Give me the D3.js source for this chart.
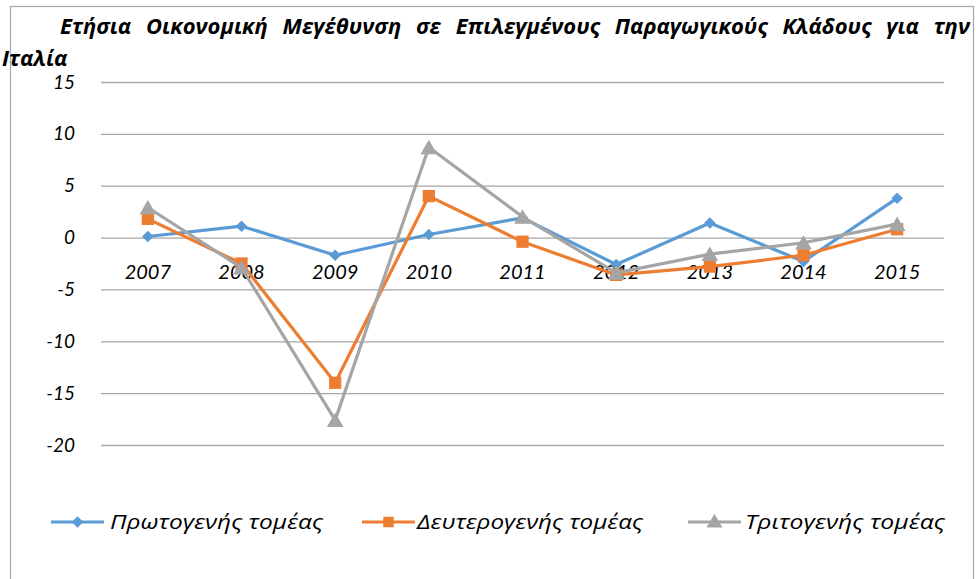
<!DOCTYPE html>
<html>
<head>
<meta charset="utf-8">
<script src="https://cdn.jsdelivr.net/npm/d3@7"></script>
<style>
    body { margin: 0; background: #fff; }
    svg { display: block; }
</style>
</head>
<body>
<div id="chart"></div>
<script>
const years = ["2007", "2008", "2009", "2010", "2011", "2012", "2013", "2014", "2015"];
const primary = [0.1, 1.1, -1.7, 0.3, 1.9, -2.6, 1.4, -2.3, 3.8];
const secondary = [1.8, -2.5, -14.0, 4.0, -0.4, -3.6, -2.8, -1.7, 0.8];
const tertiary = [2.9, -2.9, -17.6, 8.7, 2.0, -3.4, -1.6, -0.5, 1.3];
const yTicks = [15, 10, 5, 0, -5, -10, -15, -20];
const seriesNames = ["Πρωτογενής τομέας", "Δευτερογενής τομέας", "Τριτογενής τομέας"];
const titleLine1 = "Ετήσια Οικονομική Μεγέθυνση σε Επιλεγμένους Παραγωγικούς Κλάδους για την";
const titleLine2 = "Ιταλία";

const width = 976, height = 579;
const plot = { left: 101, right: 944, top: 82, bottom: 445 };

const svg = d3.select("#chart")
    .append("svg")
    .attr("width", width)
    .attr("height", height);

// chart frame
svg.append("rect")
    .attr("x", 10.5).attr("y", 6.5)
    .attr("width", 963).attr("height", 580)
    .attr("fill", "#fff")
    .attr("stroke", "#a6a6a6")
    .attr("stroke-width", 1.2);

const x = d3.scaleBand()
    .domain(years)
    .range([plot.left, plot.right])
    .paddingInner(0).paddingOuter(0);

const y = d3.scaleLinear()
    .domain([-20, 15])
    .range([plot.bottom, plot.top]);

const cx = d => x(d) + x.bandwidth() / 2;
const tickFont = "Lato, 'Open Sans', sans-serif";

// y axis + gridlines
const yAxis = svg.append("g")
    .attr("transform", `translate(${plot.left},0)`)
    .call(d3.axisLeft(y)
        .tickValues(yTicks)
        .tickFormat(d => String(d))
        .tickSizeInner(-(plot.right - plot.left))
        .tickSizeOuter(0)
        .tickPadding(26));
yAxis.select(".domain").remove();
yAxis.selectAll(".tick line")
    .attr("stroke", "#a6a6a6")
    .attr("stroke-width", 1.3);
yAxis.selectAll(".tick text")
    .attr("font-family", tickFont)
    .attr("font-style", "italic")
    .attr("font-size", 19)
    .attr("fill", "#000");

// category labels sit on the zero line
const xAxis = svg.append("g")
    .attr("transform", `translate(0,${y(0)})`)
    .call(d3.axisBottom(x).tickSize(0).tickPadding(27));
xAxis.select(".domain").remove();
xAxis.selectAll(".tick text")
    .attr("font-family", tickFont)
    .attr("font-style", "italic")
    .attr("font-size", 20)
    .attr("fill", "#000");

// title, justified on the first line
const titleFont = "'Open Sans', 'Noto Sans', sans-serif";
const words = titleLine1.split(" ");
const tg = svg.append("g")
    .attr("font-family", titleFont)
    .attr("font-weight", "bold")
    .attr("font-style", "italic")
    .attr("font-size", 22);
const wordNodes = words.map(w => tg.append("text").attr("y", 34).text(w));
const widths = wordNodes.map(n => n.node().getComputedTextLength());
const x0 = 60, x1 = 970;
const gap = Math.max(4, (x1 - x0 - d3.sum(widths)) / (words.length - 1));
let pos = x0;
wordNodes.forEach((n, i) => {
    n.attr("x", pos);
    pos += widths[i] + gap;
});
tg.append("text").attr("x", 2).attr("y", 66).text(titleLine2);

// series
const colors = ["#5b9bd5", "#ed7d31", "#a5a5a5"];
const allSeries = [primary, secondary, tertiary];

const line = d3.line()
    .x((d, i) => cx(years[i]))
    .y(d => y(d));

const symbols = [
    d3.symbol().type(d3.symbolDiamond2).size(85),
    d3.symbol().type(d3.symbolSquare).size(150),
    d3.symbol().type(d3.symbolTriangle).size(120)
];

allSeries.forEach((vals, s) => {
    svg.append("path")
        .datum(vals)
        .attr("d", line)
        .attr("fill", "none")
        .attr("stroke", colors[s])
        .attr("stroke-width", 3.2)
        .attr("stroke-linejoin", "round");

    svg.selectAll(".m" + s)
        .data(vals)
        .enter()
        .append("path")
        .attr("class", "m" + s)
        .attr("transform", (d, i) => `translate(${cx(years[i])},${y(d) + (s === 2 ? 2 : 0)})`)
        .attr("d", symbols[s]())
        .attr("fill", colors[s]);
});

// legend
const legendItems = [
    { x: 51, textX: 110, textW: 213 },
    { x: 362, textX: 417, textW: 226 },
    { x: 688, textX: 745, textW: 200 }
];
const ly = 522;
const legend = svg.append("g");
legendItems.forEach((it, s) => {
    legend.append("line")
        .attr("x1", it.x).attr("x2", it.x + 53)
        .attr("y1", ly).attr("y2", ly)
        .attr("stroke", colors[s])
        .attr("stroke-width", 3.2);
    legend.append("path")
        .attr("transform", `translate(${it.x + 26.5},${ly + (s === 2 ? 1 : 0)})`)
        .attr("d", symbols[s].size(s === 0 ? 85 : 110)())
        .attr("fill", colors[s]);
    legend.append("text")
        .attr("x", it.textX)
        .attr("y", ly + 7)
        .attr("font-family", "'Open Sans', 'Noto Sans', sans-serif")
        .attr("font-style", "italic")
        .attr("font-size", 20)
        .attr("textLength", it.textW)
        .attr("lengthAdjust", "spacingAndGlyphs")
        .attr("fill", "#000")
        .text(seriesNames[s]);
});
</script>
</body>
</html>
